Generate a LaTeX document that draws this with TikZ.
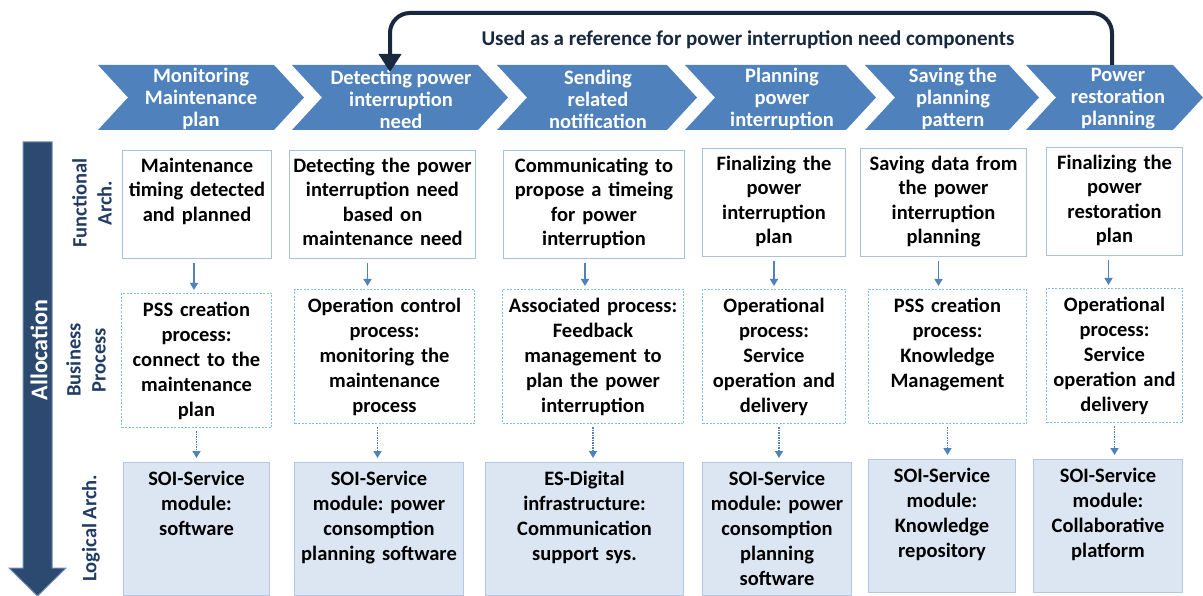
\documentclass[tikz,border=0pt]{standalone}
\usepackage{fontspec}
\setmainfont{Carlito}
\usepackage{xcolor}
\usepackage{tikz}
\usetikzlibrary{arrows.meta}
\frenchspacing

\definecolor{chevblue}{HTML}{4F81BD}
\definecolor{navyline}{HTML}{17283F}
\definecolor{rowblue}{HTML}{213C64}
\definecolor{allocfill}{HTML}{2C4A70}
\definecolor{allocedge}{HTML}{6F8DB5}
\definecolor{funcline}{HTML}{A9C1E0}
\definecolor{busline}{HTML}{7FC0E4}
\definecolor{logfill}{HTML}{DCE6F2}
\definecolor{logline}{HTML}{B4C7E2}

\begin{document}
\begin{tikzpicture}[x=1pt, y=-1pt,
  chev/.style={fill=chevblue},
  chevtext/.style={text=white, align=center, font=\bfseries\fontsize{20.5}{22}\selectfont},
  funcbox/.style={draw=funcline, line width=1pt, fill=white, anchor=north west, inner sep=0pt,
    align=center, text height=22pt, text depth=86pt, font=\bfseries\fontsize{20.5}{24.5}\selectfont},
  busbox/.style={draw=busline, line width=1pt, dash pattern=on 2pt off 1.5pt, fill=white, anchor=north west,
    inner sep=0pt, align=center, text height=23pt, text depth=111pt, font=\bfseries\fontsize{20.5}{25}\selectfont},
  logbox/.style={draw=logline, fill=logfill, line width=1pt, anchor=north west, inner sep=0pt,
    align=center, text height=23pt, text depth=110pt, font=\bfseries\fontsize{20.5}{25}\selectfont},
  rowlabel/.style={rotate=90, align=center, text=rowblue, font=\bfseries\fontsize{20.5}{25}\selectfont},
  flow/.style={draw=chevblue, line width=1.5pt, -{Triangle[width=8pt,length=7pt]}, shorten <=4pt, shorten >=3pt},
  flowdot/.style={flow, dash pattern=on 1.5pt off 1pt, shorten <=3pt, shorten >=4pt},
  feedback/.style={draw=navyline, line width=4pt, rounded corners=20pt, -{Triangle[width=22pt,length=18pt]}}]
  \useasboundingbox (0,0) rectangle (1203,596);

  % process chevrons
  \fill[chev] (98,65) -- (274,65) -- (304,97.5) -- (274,130) -- (98,130) -- (128,97.5) -- cycle;
  \fill[chev] (292,65) -- (478,65) -- (508,97.5) -- (478,130) -- (292,130) -- (322,97.5) -- cycle;
  \fill[chev] (497,65) -- (667,65) -- (697,97.5) -- (667,130) -- (497,130) -- (527,97.5) -- cycle;
  \fill[chev] (685,65) -- (846,65) -- (876,97.5) -- (846,130) -- (685,130) -- (715,97.5) -- cycle;
  \fill[chev] (865,65) -- (1009,65) -- (1039,97.5) -- (1009,130) -- (865,130) -- (895,97.5) -- cycle;
  \fill[chev] (1026,65) -- (1173,65) -- (1203,97.5) -- (1173,130) -- (1026,130) -- (1056,97.5) -- cycle;
  \node[chevtext] (ch1) at (201,99) {Monitoring\\Maintenance\\plan};
  \node[chevtext] (ch2) at (401,99) {Detecting power\\interruption\\need};
  \node[chevtext] (ch3) at (598,99) {Sending\\related\\notification};
  \node[chevtext] (ch4) at (782,99) {Planning\\power\\interruption};
  \node[chevtext] (ch5) at (953,99) {Saving the\\planning\\pattern};
  \node[chevtext] (ch6) at (1118,99) {Power\\restoration\\planning};

  % feedback arrow
  \coordinate (fbstart) at (1112,65);
  \coordinate (fbend) at (390,72);
  \draw[feedback] (fbstart) |- (fbend |- 0,13) -- (fbend);
  \node[text=navyline, font=\bfseries\fontsize{21}{25}\selectfont] (refnote) at (748,40)
    {Used as a reference for power interruption need components};

  % allocation arrow
  \filldraw[fill=allocfill, draw=allocedge, line width=1pt]
    (23,142) -- (52,142) -- (52,568) -- (66,568) -- (37.5,596) -- (9,568) -- (23,568) -- cycle;
  \node[rotate=90, text=white, font=\bfseries\fontsize{24}{28}\selectfont] (alloc) at (39,350) {Allocation};

  \node[rowlabel] (lfunc) at (92,203) {Functional\\Arch.};
  \node[rowlabel] (lbus) at (86,360) {Business\\Process};
  \node[rowlabel] (llog) at (91,528) {Logical Arch.};

  % functional architecture
  \node[funcbox, text width=149pt] (f1) at (122,150) {Maintenance\\timing detected\\and planned};
  \node[funcbox, text width=186pt] (f2) at (289,150) {Detecting the power\\interruption need\\based on\\maintenance need};
  \node[funcbox, text width=181pt] (f3) at (503,150) {Communicating to\\propose a timeing\\for power\\interruption};
  \node[funcbox, text width=143pt] (f4) at (702,148) {Finalizing the\\power\\interruption\\plan};
  \node[funcbox, text width=166pt] (f5) at (860,148) {Saving data from\\the power\\interruption\\planning};
  \node[funcbox, text width=136pt] (f6) at (1046,147) {Finalizing the\\power\\restoration\\plan};

  % business process
  \node[busbox, text width=150pt] (b1) at (121,293) {PSS creation\\process:\\connect to the\\maintenance\\plan};
  \node[busbox, text width=180pt] (b2) at (294,289) {Operation control\\process:\\monitoring the\\maintenance\\process};
  \node[busbox, text width=181pt] (b3) at (502,289) {Associated process:\\Feedback\\management to\\plan the power\\interruption};
  \node[busbox, text width=143pt] (b4) at (702,289) {Operational\\process:\\Service\\operation and\\delivery};
  \node[busbox, text width=158pt] (b5) at (868,289) {PSS creation\\process:\\Knowledge\\Management};
  \node[busbox, text width=136pt] (b6) at (1046,288) {Operational\\process:\\Service\\operation and\\delivery};

  % logical architecture
  \node[logbox, text width=146pt] (l1) at (123,462) {SOI-Service\\module:\\software};
  \node[logbox, text width=169pt] (l2) at (294,462) {SOI-Service\\module: power\\consomption\\planning software};
  \node[logbox, text width=198pt] (l3) at (485,462) {ES-Digital\\infrastructure:\\Communication\\support sys.};
  \node[logbox, text width=149pt] (l4) at (702,462) {SOI-Service\\module: power\\consomption\\planning\\software};
  \node[logbox, text width=147pt] (l5) at (868,459) {SOI-Service\\module:\\Knowledge\\repository};
  \node[logbox, text width=149pt] (l6) at (1033,459) {SOI-Service\\module:\\Collaborative\\platform};

  \draw[flow] ([xshift=-3pt]f1.south) -- ([xshift=-3pt]f1.south |- b1.north);
  \draw[flow] ([xshift=-15pt]f2.south) -- ([xshift=-15pt]f2.south |- b2.north);
  \draw[flow] ([xshift=-9pt]f3.south) -- ([xshift=-9pt]f3.south |- b3.north);
  \draw[flow] (f4.south) -- (f4.south |- b4.north);
  \draw[flow] ([xshift=-5pt]f5.south) -- ([xshift=-5pt]f5.south |- b5.north);
  \draw[flow] ([xshift=-6pt]f6.south) -- ([xshift=-6pt]f6.south |- b6.north);

  \draw[flowdot] (b1.south) -- (b1.south |- l1.north);
  \draw[flowdot] ([xshift=-7pt]b2.south) -- ([xshift=-7pt]b2.south |- l2.north);
  \draw[flowdot] (b3.south) -- (b3.south |- l3.north);
  \draw[flowdot] ([xshift=5pt]b4.south) -- ([xshift=5pt]b4.south |- l4.north);
  \draw[flowdot] (b5.south) -- (b5.south |- l5.north);
  \draw[flowdot] (b6.south) -- (b6.south |- l6.north);
\end{tikzpicture}
\end{document}
